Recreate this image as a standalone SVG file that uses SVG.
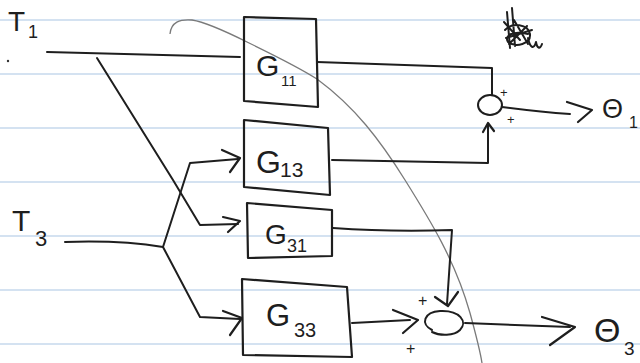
<svg xmlns="http://www.w3.org/2000/svg" width="640" height="363" viewBox="0 0 640 363">
<style>
.rule{stroke:#c6d9ec;stroke-width:1.5;fill:none}
.curve{stroke:#7a7a7a;stroke-width:1.3;fill:none}
.box{stroke:#1e1e1e;stroke-width:2.2;fill:none;stroke-linejoin:round}
.ln{stroke:#1e1e1e;stroke-width:2;fill:none;stroke-linecap:round;stroke-linejoin:round}
.ah{stroke:#1e1e1e;stroke-width:2.2;fill:none;stroke-linecap:round;stroke-linejoin:round}
.t{font-family:"Liberation Sans",Arial,sans-serif;fill:#1e1e1e}
</style>
<rect width="640" height="363" fill="#ffffff"/>
<g id="paper">
<line class="rule" x1="0" y1="20" x2="640" y2="20"/>
<line class="rule" x1="0" y1="74" x2="640" y2="74"/>
<line class="rule" x1="0" y1="128" x2="640" y2="128"/>
<line class="rule" x1="0" y1="182" x2="640" y2="182"/>
<line class="rule" x1="0" y1="236" x2="640" y2="236"/>
<line class="rule" x1="0" y1="290" x2="640" y2="290"/>
<line class="rule" x1="0" y1="344" x2="640" y2="344"/>
<path class="curve" d="M170,34 C171,22 180,19 192,20 C205,22 225,31 247,42 C280,58 300,68 317,79 C355,107 380,140 405,180 C430,220 455,260 470,313 C476,335 480,350 482,363"/>
<circle cx="8" cy="61" r="1.2" fill="#333"/>
</g>
<g id="scribble" class="ln" stroke-width="1.6">
<path d="M507,12 L510,48 M512,8 L515,46 M505,30 C512,22 528,24 530,34 C531,44 516,48 508,42 C504,36 512,30 528,34 M506,38 L532,30 M509,44 L527,26 M504,22 L520,40 M514,20 L528,44"/>
<path d="M528,38 C530,48 534,50 536,42 C537,48 540,50 542,44"/>
</g>
<g id="T1"><text class="t" x="8" y="31" font-size="28">T</text><text class="t" x="28" y="38" font-size="18">1</text></g>
<g id="T3"><text class="t" x="12" y="231" font-size="30">T</text><text class="t" x="35" y="246" font-size="22">3</text></g>
<g id="G11">
<path class="box" d="M244,17 L316,19 L318,107 L244,101 Z"/>
<text class="t" x="256" y="76" font-size="30">G</text><text class="t" x="281" y="86" font-size="15">11</text>
</g>
<g id="G13">
<path class="box" d="M244,120 L328,128 L330,195 L244,187 Z"/>
<text class="t" x="256" y="173" font-size="32">G</text><text class="t" x="280" y="177" font-size="21">13</text>
</g>
<g id="G31">
<path class="box" d="M247,203 L332,210 L332,256 L248,258 Z"/>
<text class="t" x="265" y="244" font-size="28">G</text><text class="t" x="287" y="252" font-size="18">31</text>
</g>
<g id="G33">
<path class="box" d="M242,279 L347,287 L352,357 L243,355 Z"/>
<text class="t" x="266" y="326" font-size="31">G</text><text class="t" x="294" y="337" font-size="20">33</text>
</g>
<g id="sum1">
<ellipse class="ln" cx="490" cy="105" rx="12" ry="10"/>
<text class="t" x="500" y="97" font-size="13">+</text><text class="t" x="507" y="124" font-size="13">+</text>
</g>
<g id="sum2">
<path class="ln" d="M432,330 C420,324 424,312 440,311 C460,310 468,322 460,330 C454,336 440,336 432,332"/>
<text class="t" x="418" y="306" font-size="16">+</text><text class="t" x="406" y="354" font-size="16">+</text>
</g>
<g id="theta1"><text class="t" x="602" y="118" font-size="27">Θ</text><text class="t" x="629" y="128" font-size="16">1</text></g>
<g id="theta3"><text class="t" x="594" y="342" font-size="34">Θ</text><text class="t" x="624" y="355" font-size="19">3</text></g>
<g id="connectors">
<path class="ln" d="M47,52 Q150,55 240,57"/>
<path class="ln" d="M97,58 L173,180 L200,225 L238,224"/>
<path class="ah" d="M223,217 L240,221 L228,232"/>
<path class="ln" d="M65,242 Q120,240 163,247"/>
<path class="ln" d="M163,247 L190,163 L238,159"/>
<path class="ah" d="M222,150 L240,158 L230,172"/>
<path class="ln" d="M163,247 L200,317 L240,319"/>
<path class="ah" d="M223,311 L242,318 L230,335"/>
<path class="ln" d="M317,62 L492,68 L492,95"/>
<path class="ln" d="M502,107 Q540,112 570,114"/>
<path class="ah" d="M567,102 L592,110 L578,122"/>
<path class="ln" d="M332,160 L488,163 L488,124"/>
<path class="ah" d="M483,132 L488,123 L494,131"/>
<path class="ln" d="M333,228 Q390,232 452,230 L447,304"/>
<path class="ah" d="M435,297 L448,306 L458,292"/>
<path class="ln" d="M352,323 L410,320"/>
<path class="ah" d="M393,310 L418,320 L403,333"/>
<path class="ln" d="M465,323 L570,327"/>
<path class="ah" d="M542,317 L575,327 L550,345"/>
</g>
</svg>
